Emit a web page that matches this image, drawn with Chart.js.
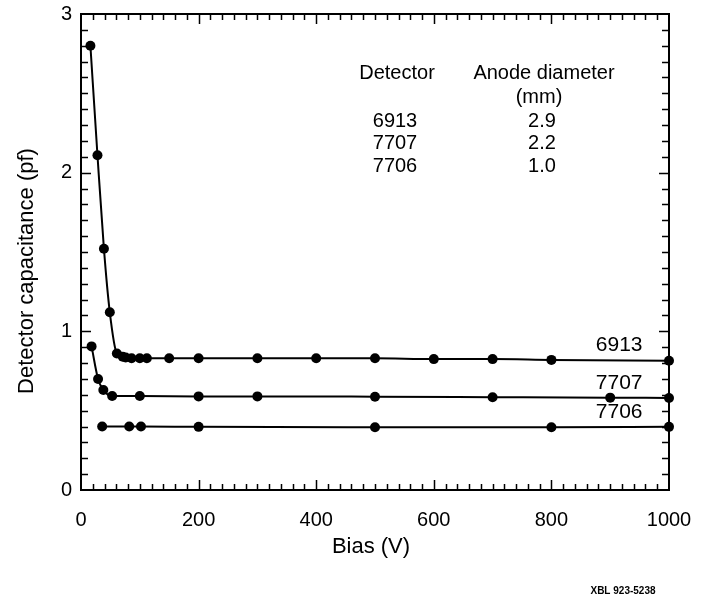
<!DOCTYPE html>
<html>
<head>
  <title>Detector capacitance vs bias</title>
  <script src="https://cdn.jsdelivr.net/npm/chart.js"></script>
  <style>
    html, body { margin: 0; padding: 0; background: #fff; }
    #chart { display: block; }
  </style>
</head>
<body>
  <canvas id="chart" width="707" height="606"></canvas>

  <script>
    // Values (bias in V, capacitance in pF)
    const bias6913 = [16, 28, 39, 49, 61, 71, 76, 86, 100, 112, 150, 200, 300, 400, 500, 600, 700, 800, 1000];
    const cap6913  = [2.80, 2.11, 1.52, 1.12, 0.86, 0.84, 0.835, 0.83, 0.83, 0.83, 0.83, 0.83, 0.83, 0.83, 0.83, 0.825, 0.825, 0.82, 0.815];

    const bias7707 = [18, 29, 38, 53, 100, 200, 300, 500, 700, 900, 1000];
    const cap7707  = [0.905, 0.70, 0.63, 0.593, 0.593, 0.59, 0.59, 0.588, 0.585, 0.582, 0.58];

    const bias7706 = [36, 82, 102, 200, 500, 800, 1000];
    const cap7706  = [0.40, 0.40, 0.40, 0.398, 0.396, 0.395, 0.398];

    const detectorNames = ['6913', '7707', '7706'];
    const anodeDiameters = ['2.9', '2.2', '1.0'];

    const xTicks = [0, 200, 400, 600, 800, 1000];
    const yTicks = [0, 1, 2, 3];

    const FONT = '"Liberation Sans", Arial, Helvetica, sans-serif';

    function points(xs, ys) {
      return xs.map((x, i) => ({ x: x, y: ys[i] }));
    }

    function series(label, xs, ys) {
      return {
        label: label,
        data: points(xs, ys),
        borderColor: '#000',
        backgroundColor: '#000',
        borderWidth: 2,
        pointRadius: 5,
        pointBorderWidth: 0,
        pointBackgroundColor: '#000',
        cubicInterpolationMode: 'monotone',
        clip: false
      };
    }

    // frame with inward ticks, curve labels, table and titles
    const decorations = {
      id: 'decorations',
      afterDraw(chart) {
        const ctx = chart.ctx;
        const xs = chart.scales.x;
        const ys = chart.scales.y;
        const a = chart.chartArea;

        ctx.save();
        ctx.strokeStyle = '#000';
        ctx.fillStyle = '#000';

        // frame
        ctx.lineWidth = 2;
        ctx.strokeRect(a.left, a.top, a.right - a.left, a.bottom - a.top);

        // x ticks, bottom and top
        ctx.lineWidth = 1.5;
        ctx.beginPath();
        for (let v = 20; v < 1000; v += 20) {
          const px = Math.round(xs.getPixelForValue(v)) + 0.5;
          const len = (v % 200 === 0) ? 10 : 6;
          ctx.moveTo(px, a.bottom);
          ctx.lineTo(px, a.bottom - len);
          ctx.moveTo(px, a.top);
          ctx.lineTo(px, a.top + len);
        }
        // y ticks, left and right
        for (let i = 1; i < 30; i++) {
          const v = i / 10;
          const py = Math.round(ys.getPixelForValue(v)) + 0.5;
          const len = (i % 10 === 0) ? 10 : 7;
          ctx.moveTo(a.left, py);
          ctx.lineTo(a.left + len, py);
          ctx.moveTo(a.right, py);
          ctx.lineTo(a.right - len, py);
        }
        ctx.stroke();

        // labels next to each curve end
        const lastY = [cap6913[cap6913.length - 1], cap7707[cap7707.length - 1], cap7706[cap7706.length - 1]];
        ctx.font = '21px ' + FONT;
        ctx.textAlign = 'right';
        ctx.textBaseline = 'middle';
        detectorNames.forEach((name, i) => {
          ctx.fillText(name, xs.getPixelForValue(955), ys.getPixelForValue(lastY[i]) - 15);
        });

        // table in the upper right
        ctx.font = '20px ' + FONT;
        ctx.textAlign = 'center';
        const colA = 397, colB = 542;
        ctx.fillText('Detector', colA, 73);
        ctx.fillText('Anode diameter', 544, 73);
        ctx.fillText('(mm)', 539, 97);
        detectorNames.forEach((name, i) => {
          ctx.fillText(name, colA - 2, 121 + i * 22.5);
          ctx.fillText(anodeDiameters[i], colB, 121 + i * 22.5);
        });

        // axis titles
        ctx.font = '22px ' + FONT;
        ctx.fillText('Bias (V)', 371, 547);
        ctx.save();
        ctx.translate(27, 271);
        ctx.rotate(-Math.PI / 2);
        ctx.fillText('Detector capacitance (pf)', 0, 0);
        ctx.restore();

        // figure code
        ctx.font = 'bold 10px ' + FONT;
        ctx.fillText('XBL 923-5238', 623, 591);

        ctx.restore();
      }
    };

    const ctx = document.getElementById('chart').getContext('2d');
    const chart = new Chart(ctx, {
      type: 'line',
      data: {
        datasets: [
          series('6913', bias6913, cap6913),
          series('7707', bias7707, cap7707),
          series('7706', bias7706, cap7706)
        ]
      },
      options: {
        responsive: false,
        animation: false,
        devicePixelRatio: 1,
        layout: { autoPadding: false, padding: { left: 0, top: 14, right: 38, bottom: 0 } },
        plugins: {
          legend: { display: false },
          tooltip: { enabled: false }
        },
        scales: {
          x: {
            type: 'linear',
            min: 0,
            max: 1000,
            afterFit: s => { s.height = 116; s.paddingLeft = 0; s.paddingRight = 0; },
            afterBuildTicks: s => { s.ticks = xTicks.map(v => ({ value: v })); },
            grid: { display: false, drawTicks: false },
            border: { display: false },
            ticks: {
              color: '#000',
              padding: 18,
              maxRotation: 0,
              callback: v => String(v),
              font: { family: FONT, size: 20 }
            }
          },
          y: {
            min: 0,
            max: 3,
            afterFit: s => { s.width = 81; s.paddingTop = 0; s.paddingBottom = 0; },
            afterBuildTicks: s => { s.ticks = yTicks.map(v => ({ value: v })); },
            grid: { display: false, drawTicks: false },
            border: { display: false },
            ticks: {
              color: '#000',
              padding: 9,
              callback: v => String(v),
              font: { family: FONT, size: 20 }
            }
          }
        }
      },
      plugins: [decorations]
    });
  </script>
</body>
</html>
